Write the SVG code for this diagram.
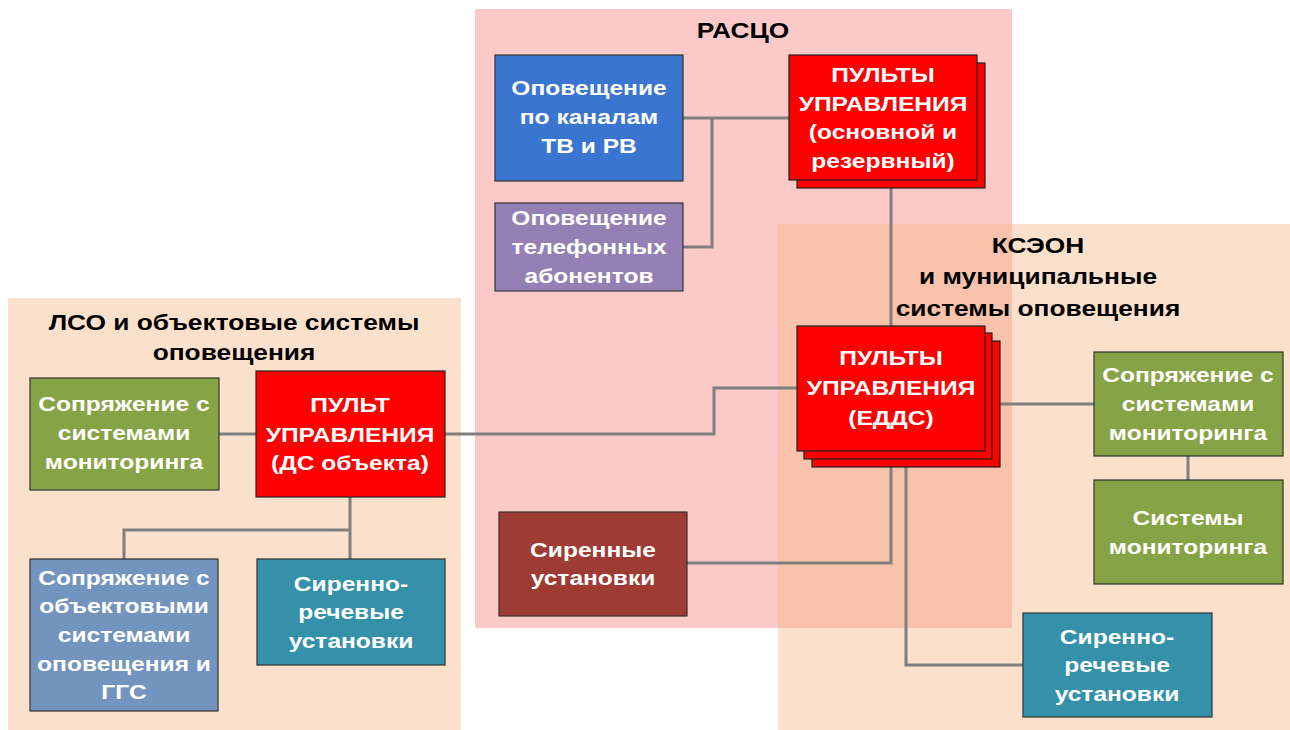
<svg xmlns="http://www.w3.org/2000/svg" width="1290" height="730" viewBox="0 0 1290 730">
<style>
.t{font-family:"Liberation Sans",Arial,sans-serif;font-weight:bold;font-size:21px;fill:#fff;text-anchor:middle}
.h{font-family:"Liberation Sans",Arial,sans-serif;font-weight:bold;font-size:22.5px;fill:#000;text-anchor:middle}
.n{stroke:#333;stroke-width:1.2}
.r{fill:#ff0000;stroke:#222;stroke-width:1.2}
.c{fill:none;stroke:#7f7f7f;stroke-width:3}
</style>
<rect width="1290" height="730" fill="#fff"/>
<g id="regions">
<rect x="475" y="9" width="537" height="619" fill="#fbcac8"/>
<rect x="778" y="224" width="512" height="506" fill="#fbe1cb"/>
<rect x="778" y="224" width="234" height="404" fill="#f9c2aa"/>
<rect x="8" y="298" width="453" height="432" fill="#fbe1cb"/>
<text class="h" transform="translate(743 38) scale(1.17 1)">РАСЦО</text>
<text class="h" transform="translate(1038 253) scale(1.17 1)">КСЭОН</text>
<text class="h" transform="translate(1038 284) scale(1.17 1)">и муниципальные</text>
<text class="h" transform="translate(1038 316) scale(1.17 1)">системы оповещения</text>
<text class="h" transform="translate(234 330) scale(1.17 1)">ЛСО и объектовые системы</text>
<text class="h" transform="translate(234 360) scale(1.17 1)">оповещения</text>
</g>
<g id="connectors">
<path class="c" d="M683 118H789M712 118V247H683"/>
<path class="c" d="M891 188V326"/>
<path class="c" d="M445 434H714V388H797"/>
<path class="c" d="M219 434H256"/>
<path class="c" d="M350 497V559M124 559V530H350"/>
<path class="c" d="M891 451V563H687"/>
<path class="c" d="M906 467V665H1023"/>
<path class="c" d="M1000 404H1094"/>
<path class="c" d="M1188 456V480"/>
</g>
<g id="tv">
<rect class="n" x="495" y="55" width="188" height="126" fill="#3a76cf"/>
<text class="t" transform="translate(589 95) scale(1.17 1)">Оповещение</text>
<text class="t" transform="translate(589 124) scale(1.17 1)">по каналам</text>
<text class="t" transform="translate(589 153) scale(1.17 1)">ТВ и РВ</text>
</g>
<g id="phone">
<rect class="n" x="495" y="203" width="188" height="88" fill="#9580b5"/>
<text class="t" transform="translate(589 225) scale(1.17 1)">Оповещение</text>
<text class="t" transform="translate(589 254) scale(1.17 1)">телефонных</text>
<text class="t" transform="translate(589 283) scale(1.17 1)">абонентов</text>
</g>
<g id="pult-rasco">
<rect class="r" x="797" y="63" width="188" height="125"/>
<rect class="r" x="789" y="55" width="188" height="125"/>
<text class="t" transform="translate(883 82) scale(1.17 1)">ПУЛЬТЫ</text>
<text class="t" transform="translate(883 111) scale(1.17 1)">УПРАВЛЕНИЯ</text>
<text class="t" transform="translate(883 139) scale(1.17 1)">(основной и</text>
<text class="t" transform="translate(883 168) scale(1.17 1)">резервный)</text>
</g>
<g id="pult-edds">
<rect class="r" x="812" y="341" width="188" height="126"/>
<rect class="r" x="804" y="333" width="188" height="126"/>
<rect class="r" x="797" y="326" width="188" height="125"/>
<text class="t" transform="translate(891 365) scale(1.17 1)">ПУЛЬТЫ</text>
<text class="t" transform="translate(891 395) scale(1.17 1)">УПРАВЛЕНИЯ</text>
<text class="t" transform="translate(891 425) scale(1.17 1)">(ЕДДС)</text>
</g>
<g id="pult-lso">
<rect class="r" x="256" y="371" width="189" height="126"/>
<text class="t" transform="translate(350 412) scale(1.17 1)">ПУЛЬТ</text>
<text class="t" transform="translate(350 442) scale(1.17 1)">УПРАВЛЕНИЯ</text>
<text class="t" transform="translate(350 470) scale(1.17 1)">(ДС объекта)</text>
</g>
<g id="mon-left">
<rect class="n" x="30" y="378" width="189" height="112" fill="#86a445"/>
<text class="t" transform="translate(124 411) scale(1.17 1)">Сопряжение с</text>
<text class="t" transform="translate(124 440) scale(1.17 1)">системами</text>
<text class="t" transform="translate(124 469) scale(1.17 1)">мониторинга</text>
</g>
<g id="obj">
<rect class="n" x="30" y="559" width="188" height="152" fill="#7394bf"/>
<text class="t" transform="translate(124 585) scale(1.17 1)">Сопряжение с</text>
<text class="t" transform="translate(124 613) scale(1.17 1)">объектовыми</text>
<text class="t" transform="translate(124 642) scale(1.17 1)">системами</text>
<text class="t" transform="translate(124 671) scale(1.17 1)">оповещения и</text>
<text class="t" transform="translate(124 699) scale(1.17 1)">ГГС</text>
</g>
<g id="sru-left">
<rect class="n" x="257" y="559" width="188" height="106" fill="#3591a9"/>
<text class="t" transform="translate(351 591) scale(1.17 1)">Сиренно-</text>
<text class="t" transform="translate(351 619) scale(1.17 1)">речевые</text>
<text class="t" transform="translate(351 648) scale(1.17 1)">установки</text>
</g>
<g id="sirens">
<rect class="n" x="499" y="512" width="188" height="104" fill="#9e3b35"/>
<text class="t" transform="translate(593 557) scale(1.17 1)">Сиренные</text>
<text class="t" transform="translate(593 585) scale(1.17 1)">установки</text>
</g>
<g id="mon-right">
<rect class="n" x="1094" y="352" width="189" height="104" fill="#86a445"/>
<text class="t" transform="translate(1188 382) scale(1.17 1)">Сопряжение с</text>
<text class="t" transform="translate(1188 411) scale(1.17 1)">системами</text>
<text class="t" transform="translate(1188 440) scale(1.17 1)">мониторинга</text>
</g>
<g id="mon-sys">
<rect class="n" x="1094" y="480" width="189" height="104" fill="#86a445"/>
<text class="t" transform="translate(1188 525) scale(1.17 1)">Системы</text>
<text class="t" transform="translate(1188 554) scale(1.17 1)">мониторинга</text>
</g>
<g id="sru-right">
<rect class="n" x="1023" y="613" width="189" height="104" fill="#3591a9"/>
<text class="t" transform="translate(1117 644) scale(1.17 1)">Сиренно-</text>
<text class="t" transform="translate(1117 672) scale(1.17 1)">речевые</text>
<text class="t" transform="translate(1117 701) scale(1.17 1)">установки</text>
</g>
</svg>
